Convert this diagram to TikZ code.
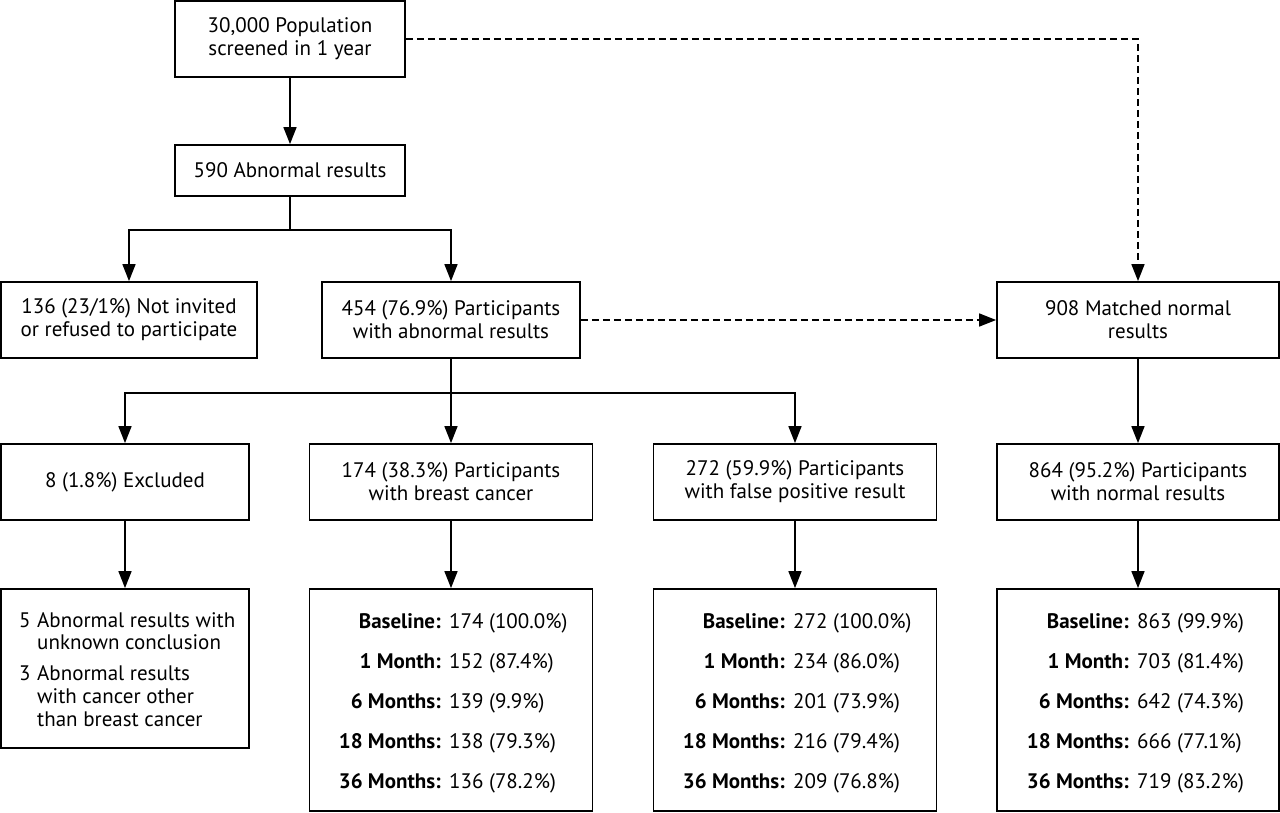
\documentclass[tikz,border=0pt]{standalone}
\usepackage{fontspec}
\setmainfont{PT Sans}
\usetikzlibrary{arrows.meta}
\tikzset{
  box/.style={draw, line width=1.8pt, rectangle, inner sep=0pt, align=center,
    font=\fontsize{21}{23}\selectfont},
  arr/.style={line width=1.6pt, -{Triangle[length=17pt,width=13pt]}},
  dsh/.style={arr, dash pattern=on 7pt off 4pt},
  ln/.style={line width=1.6pt},
  lab/.style={inner sep=0pt, font=\fontsize{21}{23}\selectfont\bfseries},
  val/.style={inner sep=0pt, font=\fontsize{21}{23}\selectfont},
}
\begin{document}
\begin{tikzpicture}[x=1pt,y=-1pt]
\useasboundingbox (0,0) rectangle (1280,812);
% row 0-1
\node[box, minimum width=230pt, minimum height=76pt] (top) at (290,39) {30,000 Population\\screened in 1 year};
\node[box, minimum width=230pt, minimum height=51pt] (abn) at (290,170.5) {590 Abnormal results};
% row 2
\node[box, minimum width=256pt, minimum height=76pt] (notinv) at (129,320) {136 (23/1\%) Not invited\\or refused to participate};
\node[box, minimum width=258pt, minimum height=76pt] (part) at (451,320) {454 (76.9\%) Participants\\with abnormal results};
\node[box, minimum width=282pt, minimum height=76pt] (matched) at (1138,320) {908 Matched normal\\results};
% row 3
\node[box, minimum width=248pt, minimum height=76pt] (excl) at (125,482) {8 (1.8\%) Excluded};
\node[box, minimum width=283pt, minimum height=76pt] (breast) at (451,482) {174 (38.3\%) Participants\\with breast cancer};
\node[box, minimum width=283pt, minimum height=76pt] (fp) at (795,482) {272 (59.9\%) Participants\\with false positive result};
\node[box, minimum width=282pt, minimum height=76pt] (normal) at (1138,482) {864 (95.2\%) Participants\\with normal results};
% row 4 boxes
\node[box, minimum width=248pt, minimum height=159pt] (exdet) at (125,668.5) {};
\node[box, minimum width=283pt, minimum height=222pt] (bstats) at (451,700) {};
\node[box, minimum width=283pt, minimum height=222pt] (fstats) at (795,700) {};
\node[box, minimum width=282pt, minimum height=222pt] (nstats) at (1138,700) {};
% excluded details
\node[val, anchor=base west] (e1n) at (19,627) {5};
\node[val, anchor=base west] (e1t) at (37,627) {Abnormal results with};
\node[val, anchor=base west] (e1u) at (37,649) {unknown conclusion};
\node[val, anchor=base west] (e2n) at (19,680) {3};
\node[val, anchor=base west] (e2t) at (37,680) {Abnormal results};
\node[val, anchor=base west] (e2u) at (37,703) {with cancer other};
\node[val, anchor=base west] (e2v) at (37,726) {than breast cancer};
% stats
\foreach \c/\n/\va/\vb/\vc/\vd/\ve in {441/b/174 (100.0\%)/152 (87.4\%)/139 (9.9\%)/138 (79.3\%)/136 (78.2\%),
  785/f/272 (100.0\%)/234 (86.0\%)/201 (73.9\%)/216 (79.4\%)/209 (76.8\%),
  1129/n/863 (99.9\%)/703 (81.4\%)/642 (74.3\%)/666 (77.1\%)/719 (83.2\%)}{
  \node[lab, anchor=base east] (\n l1) at (\c,628) {Baseline:};
  \node[lab, anchor=base east] (\n l2) at (\c,668) {1 Month:};
  \node[lab, anchor=base east] (\n l3) at (\c,708) {6 Months:};
  \node[lab, anchor=base east] (\n l4) at (\c,748) {18 Months:};
  \node[lab, anchor=base east] (\n l5) at (\c,788) {36 Months:};
  \node[val, anchor=base west] (\n v1) at (\c+8,628) {\va};
  \node[val, anchor=base west] (\n v2) at (\c+8,668) {\vb};
  \node[val, anchor=base west] (\n v3) at (\c+8,708) {\vc};
  \node[val, anchor=base west] (\n v4) at (\c+8,748) {\vd};
  \node[val, anchor=base west] (\n v5) at (\c+8,788) {\ve};
}
% connectors
\draw[arr] (top.south) -- (abn.north);
\coordinate (s1) at (290,230);
\draw[ln] (abn.south) -- (s1);
\draw[arr] (s1) -| (notinv.north);
\draw[arr] (s1) -| (part.north);
\draw[dsh] (top.east) -| (matched.north);
\draw[dsh] (part.east) -- (matched.west);
\coordinate (s2) at (451,393);
\draw[ln] (part.south) -- (s2);
\draw[arr] (s2) -| (excl.north);
\draw[arr] (s2) -- (breast.north);
\draw[arr] (s2) -| (fp.north);
\draw[arr] (matched.south) -- (normal.north);
\draw[arr] (excl.south) -- (exdet.north);
\draw[arr] (breast.south) -- (bstats.north);
\draw[arr] (fp.south) -- (fstats.north);
\draw[arr] (normal.south) -- (nstats.north);
\end{tikzpicture}
\end{document}
